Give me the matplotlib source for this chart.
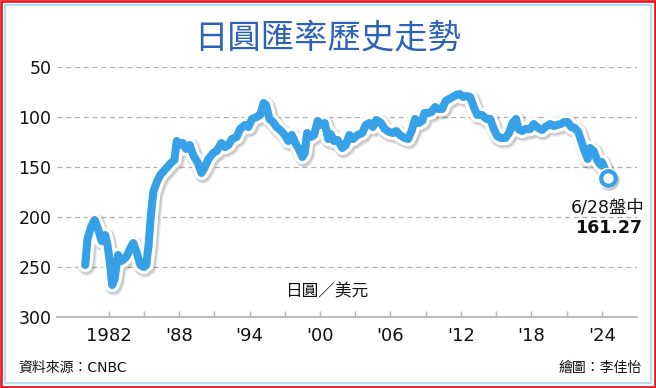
import matplotlib
matplotlib.use('Agg')
import matplotlib.pyplot as plt
import matplotlib.patheffects as pe
from matplotlib.patches import Rectangle

plt.rcParams['font.family'] = ['DejaVu Sans', 'Noto Sans CJK TC']

# ---- data ----
years = [1980.0, 1980.2, 1980.5, 1980.8, 1981.1, 1981.4, 1981.7, 1981.9, 1982.1, 1982.3,
         1982.5, 1982.8, 1983.1, 1983.5, 1983.9, 1984.1, 1984.4, 1984.7, 1985.0, 1985.2,
         1985.4, 1985.6, 1985.8, 1986.1, 1986.4, 1986.7, 1987.0, 1987.3, 1987.6, 1987.8,
         1988.0, 1988.3, 1988.6, 1988.9, 1989.2, 1989.6, 1989.9, 1990.2, 1990.5, 1990.9,
         1991.2, 1991.6, 1991.9, 1992.2, 1992.5, 1992.9, 1993.2, 1993.6, 1993.9, 1994.2,
         1994.6, 1994.9, 1995.2, 1995.4, 1995.7, 1996.0, 1996.3, 1996.7, 1997.0, 1997.3,
         1997.6, 1997.9, 1998.2, 1998.5, 1998.7, 1998.9, 1999.2, 1999.5, 1999.8, 2000.1,
         2000.4, 2000.7, 2000.9, 2001.2, 2001.5, 2001.9, 2002.2, 2002.5, 2002.8, 2003.2,
         2003.6, 2003.9, 2004.2, 2004.5, 2004.8, 2005.2, 2005.5, 2005.9, 2006.2, 2006.5,
         2006.8, 2007.2, 2007.5, 2007.8, 2008.1, 2008.4, 2008.7, 2008.9, 2009.2, 2009.5,
         2009.8, 2010.1, 2010.4, 2010.7, 2011.0, 2011.3, 2011.6, 2011.9, 2012.2, 2012.5,
         2012.8, 2013.1, 2013.4, 2013.8, 2014.2, 2014.5, 2014.8, 2015.1, 2015.4, 2015.8,
         2016.1, 2016.4, 2016.7, 2016.9, 2017.2, 2017.5, 2017.9, 2018.2, 2018.6, 2018.9,
         2019.2, 2019.6, 2019.9, 2020.2, 2020.5, 2020.8, 2021.1, 2021.4, 2021.7, 2022.0,
         2022.2, 2022.5, 2022.8, 2023.0, 2023.3, 2023.6, 2023.9, 2024.0, 2024.2, 2024.5]
rates = [248, 222, 210, 203, 212, 224, 218, 228, 245, 268,
         262, 238, 244, 240, 230, 226, 236, 248, 250, 248,
         228, 198, 175, 165, 158, 154, 150, 146, 143, 124,
         128, 126, 132, 128, 138, 146, 156, 150, 142, 136,
         134, 126, 130, 128, 122, 120, 112, 108, 110, 102,
         100, 98, 86, 88, 102, 105, 110, 114, 118, 124,
         118, 126, 132, 140, 136, 116, 120, 118, 104, 108,
         106, 122, 117, 124, 123, 131, 128, 118, 122, 118,
         116, 108, 106, 110, 103, 106, 112, 115, 116, 114,
         118, 121, 122, 114, 102, 106, 104, 96, 96, 95,
         90, 92, 92, 84, 82, 80, 78, 77, 80, 79,
         80, 90, 98, 98, 102, 102, 112, 119, 121, 121,
         116, 106, 102, 112, 114, 112, 112, 107, 111, 113,
         110, 107, 109, 108, 107, 105, 105, 110, 111, 115,
         122, 133, 142, 131, 134, 143, 148, 145, 150, 161.27]

last_year = 2024.5
last_rate = 161.27
last_label = '6/28盤中'
last_value_text = '161.27'

title = '日圓匯率歷史走勢'
unit_label = '日圓／美元'
source_text = '資料來源：CNBC'
credit_text = '繪圖：李佳怡'

x_major = [1982, 1988, 1994, 2000, 2006, 2012, 2018, 2024]
x_major_labels = ['1982', "'88", "'94", "'00", "'06", "'12", "'18", "'24"]
x_minor = [1985, 1991, 1997, 2003, 2009, 2015, 2021]
y_ticks = [50, 100, 150, 200, 250, 300]

# ---- figure ----
W, H = 656, 388
fig = plt.figure(figsize=(W / 100, H / 100), dpi=100)
fig.patch.set_facecolor('white')

# borders
fig.patches.append(Rectangle((1.2 / W, 1.2 / H), 1 - 2.4 / W, 1 - 2.4 / H,
                             transform=fig.transFigure, fill=False,
                             edgecolor='#e8141c', linewidth=1.9, zorder=0))
fig.patches.append(Rectangle((5 / W, 5 / H), 1 - 10 / W, 1 - 10 / H,
                             transform=fig.transFigure, fill=False,
                             edgecolor='#a9d6ef', linewidth=1.2, zorder=0))

ax = fig.add_axes([57 / W, 1 - 317 / H, 580 / W, 250 / H])
ax.set_facecolor('none')
ax.set_xlim(1977.6, 2027.0)
ax.set_ylim(300, 50)

for s in ['top', 'right', 'left']:
    ax.spines[s].set_visible(False)
ax.spines['bottom'].set_color('#b5b5b5')
ax.spines['bottom'].set_linewidth(1.3)

ax.set_yticks(y_ticks)
ax.set_yticklabels([str(v) for v in y_ticks])
ax.tick_params(axis='y', length=0, pad=4, labelsize=12.5, labelcolor='#111111')
for v in y_ticks[:-1]:
    ax.axhline(v, color='#b0b0b0', linewidth=0.9, linestyle=(0, (4, 3)), zorder=1)

ax.set_xticks(x_major)
ax.set_xticklabels(x_major_labels)
ax.set_xticks(x_minor, minor=True)
ax.tick_params(axis='x', which='both', direction='in', length=4.5, width=1.0,
               color='#b5b5b5', pad=7)
ax.tick_params(axis='x', which='major', labelsize=13, labelcolor='#111111')

# line with white outline and soft shadow
blue = '#36a1e6'
shadow_effects = [
    pe.SimpleLineShadow(offset=(1.2, -1.5), shadow_color='#000000', alpha=0.10, linewidth=12.5),
    pe.SimpleLineShadow(offset=(1.0, -1.2), shadow_color='#000000', alpha=0.12, linewidth=11),
]
ax.plot(years, rates, color=blue, linewidth=5.8, solid_joinstyle='round',
        solid_capstyle='round', zorder=5,
        path_effects=shadow_effects + [pe.Stroke(linewidth=10.5, foreground='white'),
                                       pe.Normal()])

# end marker
ax.plot([last_year], [last_rate], marker='o', markersize=15, markerfacecolor='white',
        markeredgecolor='white', markeredgewidth=0, zorder=6,
        path_effects=[pe.SimplePatchShadow(offset=(1.2, -1.5), shadow_rgbFace='#000000', alpha=0.2),
                      pe.Normal()])
ax.plot([last_year], [last_rate], marker='o', markersize=10.5, markerfacecolor='white',
        markeredgecolor=blue, markeredgewidth=3.0, zorder=7)

fig.text(608 / W, 1 - 208 / H, last_label, ha='center', va='center', fontsize=12.5,
         color='#111111')
fig.text(609 / W, 1 - 228 / H, last_value_text, ha='center', va='center', fontsize=12.5,
         fontweight='bold', color='#111111')

# title and texts
fig.text(0.5, 1 - 38 / H, title, ha='center', va='center', fontsize=24,
         color='#2e62b8', family=['Noto Sans CJK TC'], fontweight='light')
fig.text(327 / W, 1 - 292 / H, unit_label, ha='center', va='center', fontsize=12,
         color='#111111', family=['Noto Sans CJK TC', 'DejaVu Sans'])
fig.text(18 / W, 1 - 368 / H, source_text, ha='left', va='center', fontsize=10,
         color='#111111')
fig.text(642 / W, 1 - 368 / H, credit_text, ha='right', va='center', fontsize=10,
         color='#111111', family=['Noto Sans CJK TC', 'DejaVu Sans'])

fig.savefig('out.png', dpi=100, facecolor='white')
